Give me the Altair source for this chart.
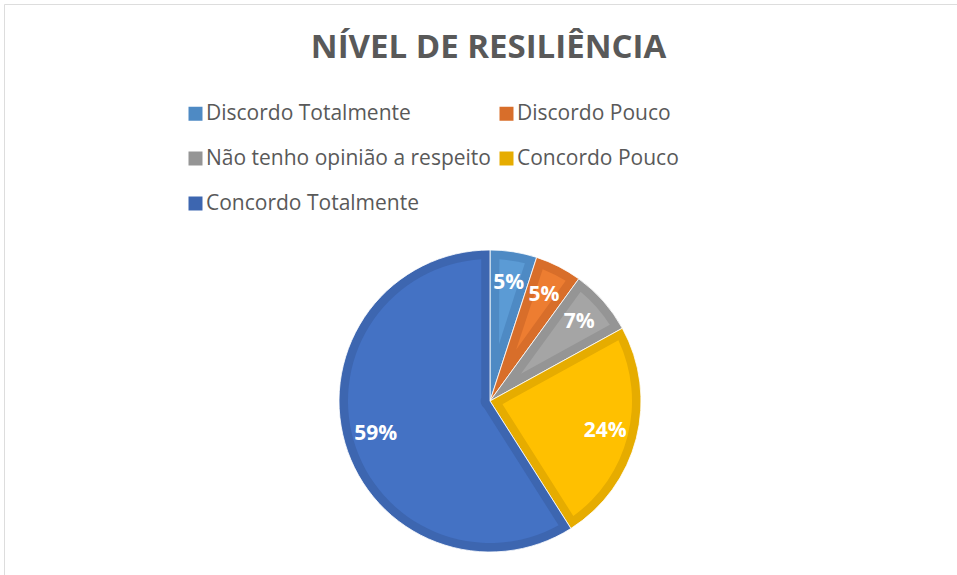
import altair as alt
import pandas as pd

# ---- data ----
categories = [
    "Discordo Totalmente",
    "Discordo Pouco",
    "Não tenho opinião a respeito",
    "Concordo Pouco",
    "Concordo Totalmente",
]
values = [5, 5, 7, 24, 59]
labels = ["5%", "5%", "7%", "24%", "59%"]
edge_colors = ["#4E8AC4", "#D86E2A", "#959595", "#E6AC00", "#3D66B0"]
fill_colors = ["#5B9BD5", "#ED7D31", "#A5A5A5", "#FFC000", "#4472C4"]
title_text = "NÍVEL DE RESILIÊNCIA"

# Vega fills legend columns top-to-bottom; this order reproduces the
# reference's row-wise reading (2 columns x 3 rows)
legend_order = [categories[0], categories[2], categories[4], categories[1], categories[3]]
edge_by_cat = dict(zip(categories, edge_colors))
fill_by_cat = dict(zip(categories, fill_colors))

df = pd.DataFrame({
    "cat": categories,
    "value": values,
    "label": labels,
    "order": list(range(len(categories))),
})

# layout constants (pixels, relative to the view origin)
CX, CY = 486, 397
R = 151
BAND = 9

base = alt.Chart(df).transform_joinaggregate(
    total="sum(value)"
).transform_window(
    cum_end="sum(value)", sort=[alt.SortField("order")], frame=[None, 0]
).transform_calculate(
    cum_start="datum.cum_end - datum.value",
    r0=f"{BAND} / sin(PI * datum.value / datum.total)",
)

theta = alt.Theta("value:Q", stack=True)
order = alt.Order("order:Q")

outer = base.mark_arc(radius=R, stroke="white", strokeWidth=0.8).encode(
    theta=theta,
    order=order,
    color=alt.Color(
        "cat:N",
        scale=alt.Scale(domain=legend_order,
                        range=[edge_by_cat[c] for c in legend_order]),
        legend=alt.Legend(
            title=None,
            orient="none",
            legendX=181,
            legendY=99,
            columns=2,
            columnPadding=5,
            rowPadding=23,
            symbolType="square",
            symbolSize=196,
            symbolStrokeWidth=0,
            symbolOpacity=1,
            labelFont="Open Sans",
            labelFontSize=21,
            labelColor="#595959",
            labelOffset=0,
            labelLimit=500,
            padding=0,
        ),
    ),
    x=alt.value(CX),
    y=alt.value(CY),
)

# lighter inset of every slice (Excel-style bevel)
inner = base.mark_arc(padAngle=0.1225).encode(
    theta=alt.Theta("cum_start:Q", stack=False),
    theta2="cum_end:Q",
    color=alt.Color(
        "cat:N",
        scale=alt.Scale(domain=legend_order,
                        range=[fill_by_cat[c] for c in legend_order]),
        legend=None,
    ),
    radius=alt.Radius("r0:Q", scale=None, stack=False),
    radius2=alt.value(R - BAND),
    x=alt.value(CX),
    y=alt.value(CY),
)

text = base.mark_text(
    radius=119, font="Open Sans", fontWeight="bold", fontSize=21,
    fill="white", baseline="middle", align="center",
).encode(
    theta=theta,
    order=order,
    text="label:N",
    x=alt.value(CX),
    y=alt.value(CY),
)

chart = alt.layer(outer, inner, text).resolve_scale(
    color="independent"
).properties(
    width=953,
    height=571,
    padding={"left": 4, "top": 4, "right": 0, "bottom": 0},
    autosize=alt.AutoSizeParams(type="none"),
    title=alt.TitleParams(
        title_text,
        font="Open Sans",
        fontSize=33,
        fontWeight="bold",
        color="#595959",
        anchor="middle",
        frame="group",
        offset=0,
        dy=61,
        dx=8,
    ),
).configure_view(
    stroke="#D9D9D9", strokeWidth=1
).configure(background="white")

chart.save("out.html", embed_options={"renderer": "svg", "actions": False})
